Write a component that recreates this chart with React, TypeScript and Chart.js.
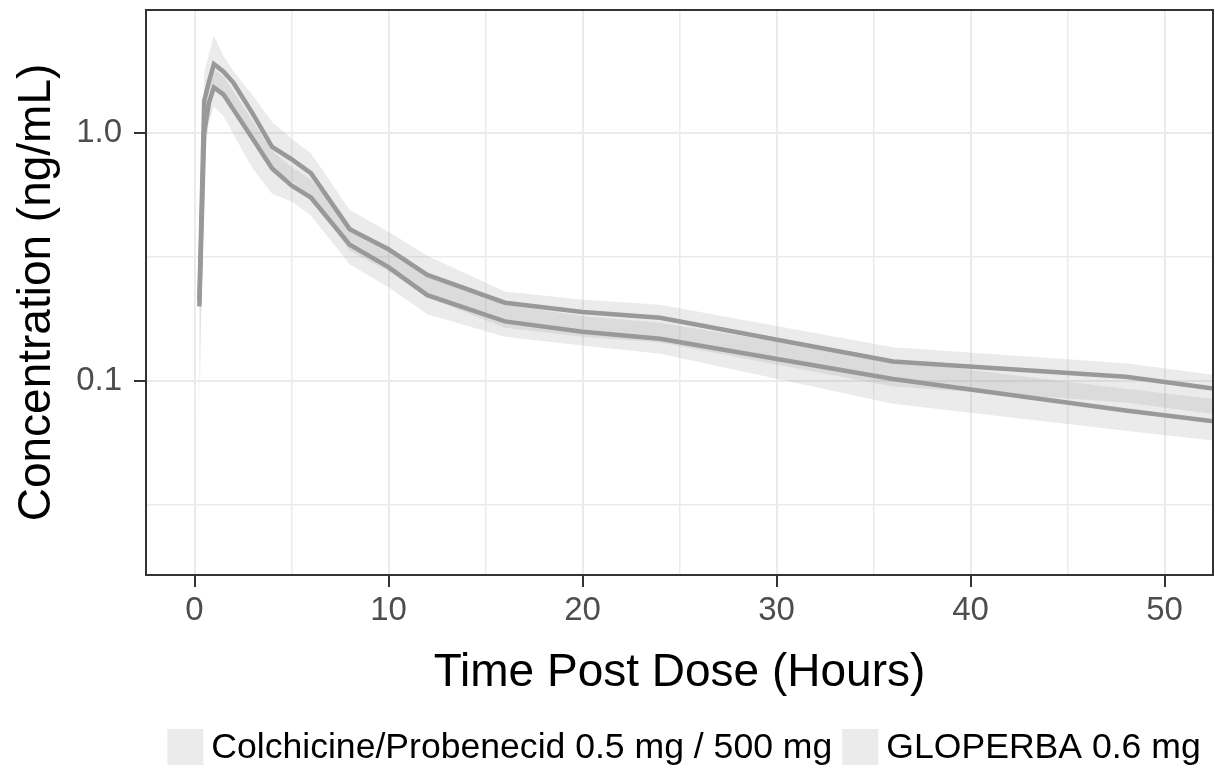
import React, { useEffect, useRef } from "react";
import { Chart, registerables } from "chart.js";

Chart.register(...registerables);

// ---------------- data ----------------
const TIMES = [0.25, 0.5, 0.75, 1, 1.5, 2, 3, 4, 5, 6, 8, 10, 12, 16, 20, 24, 36, 48, 72];

const PROB_MEAN = [0.21, 1.35, 1.62, 1.9, 1.77, 1.6, 1.2, 0.88, 0.785, 0.69, 0.41, 0.34, 0.268, 0.207, 0.19, 0.18, 0.12, 0.104, 0.058];
const PROB_HI = [0.42, 1.75, 2.1, 2.47, 2.05, 1.78, 1.42, 1.11, 0.95, 0.83, 0.49, 0.4, 0.32, 0.23, 0.213, 0.203, 0.137, 0.118, 0.067];
const PROB_LO = [0.1, 1.1, 1.32, 1.55, 1.44, 1.3, 0.98, 0.72, 0.64, 0.56, 0.335, 0.277, 0.218, 0.164, 0.151, 0.143, 0.095, 0.082, 0.046];

const GLOP_MEAN = [0.2, 1.0, 1.33, 1.53, 1.43, 1.25, 0.95, 0.72, 0.615, 0.55, 0.355, 0.288, 0.222, 0.174, 0.158, 0.148, 0.102, 0.076, 0.045];
const GLOP_HI = [0.36, 1.25, 1.57, 1.81, 1.69, 1.48, 1.12, 0.85, 0.73, 0.65, 0.42, 0.34, 0.263, 0.203, 0.183, 0.172, 0.121, 0.093, 0.056];
const GLOP_LO = [0.07, 0.8, 1.1, 1.28, 1.17, 0.99, 0.72, 0.57, 0.53, 0.465, 0.295, 0.239, 0.186, 0.151, 0.139, 0.129, 0.081, 0.063, 0.039];

const SERIES_LABELS = ["Colchicine/Probenecid 0.5 mg / 500 mg", "GLOPERBA 0.6 mg"];

const X_GRID = [0, 5, 10, 15, 20, 25, 30, 35, 40, 45, 50];
const X_TICKS = [0, 10, 20, 30, 40, 50];
const Y_GRID = [0.0316, 0.1, 0.316, 1.0];
const Y_TICKS = [0.1, 1.0];
const Y_TICK_LABELS = ["0.1", "1.0"];

const X_TITLE = "Time Post Dose (Hours)";
const Y_TITLE = "Concentration (ng/mL)";

// ---------------- style ----------------
const FONT = "'Liberation Sans', Arial, sans-serif";
const LINE_COLOR = "#999999";
const RIBBON_COLOR = "rgba(153,153,153,0.2)";
const GRID_COLOR = "#ebebeb";
const BORDER_COLOR = "#333333";
const TICK_TEXT = "#4d4d4d";

const pts = (ys: number[]) => TIMES.map((t, i) => ({ x: t, y: ys[i] }));

const panelBorder = {
  id: "panelBorder",
  afterDatasetsDraw(chart: any) {
    const { ctx, chartArea } = chart;
    const { left, top, right, bottom } = chartArea;
    ctx.save();
    ctx.strokeStyle = BORDER_COLOR;
    ctx.lineWidth = 2;
    ctx.strokeRect(left, top, right - left, bottom - top);
    ctx.restore();
  },
};

const bottomLegend = {
  id: "bottomLegend",
  afterDraw(chart: any, _args: any, opts: any) {
    const ctx = chart.ctx;
    ctx.save();
    ctx.font = `${opts.fontSize}px ${FONT}`;
    const labels: string[] = opts.labels;
    const widths = labels.map((t) => opts.box + opts.gap + ctx.measureText(t).width);
    const total = widths.reduce((a, b) => a + b, 0) + opts.spacing * (labels.length - 1);
    let x = opts.centerX - total / 2;
    const cy = opts.centerY;
    labels.forEach((t, i) => {
      ctx.fillStyle = opts.boxColor;
      ctx.fillRect(x, cy - opts.box / 2, opts.box, opts.box);
      ctx.fillStyle = "#000";
      ctx.textBaseline = "middle";
      ctx.textAlign = "left";
      ctx.fillText(t, x + opts.box + opts.gap, cy + 1);
      x += widths[i] + opts.spacing;
    });
    ctx.restore();
  },
};

export default function App() {
  const ref = useRef<HTMLCanvasElement | null>(null);

  useEffect(() => {
    if (!ref.current) return;
    const ribbon = (ys: number[], fillTo: number | false, label: string) => ({
      label,
      data: pts(ys),
      borderWidth: 0,
      borderColor: "transparent",
      pointRadius: 0,
      backgroundColor: RIBBON_COLOR,
      fill: fillTo,
      order: 2,
    });
    const line = (ys: number[], label: string) => ({
      label,
      data: pts(ys),
      borderColor: LINE_COLOR,
      borderWidth: 4.5,
      pointRadius: 0,
      fill: false,
      order: 0,
      tension: 0,
    });

    const chart = new Chart(ref.current, {
      type: "line",
      data: {
        datasets: [
          ribbon(PROB_HI, 1, SERIES_LABELS[0] + " upper"),
          ribbon(PROB_LO, false, SERIES_LABELS[0] + " lower"),
          ribbon(GLOP_HI, 3, SERIES_LABELS[1] + " upper"),
          ribbon(GLOP_LO, false, SERIES_LABELS[1] + " lower"),
          line(PROB_MEAN, SERIES_LABELS[0]),
          line(GLOP_MEAN, SERIES_LABELS[1]),
        ] as any,
      },
      options: {
        animation: false,
        responsive: false,
        devicePixelRatio: 1,
        layout: { padding: { top: 10, right: 2, bottom: 68, left: 0 } },
        plugins: {
          legend: { display: false },
          tooltip: { enabled: false },
          bottomLegend: {
            labels: SERIES_LABELS,
            fontSize: 35.6,
            box: 36,
            gap: 8,
            spacing: 10,
            centerX: 684,
            centerY: 747,
            boxColor: "#ebebeb",
          },
        } as any,
        scales: {
          x: {
            type: "linear",
            min: -2.5,
            max: 52.5,
            afterBuildTicks: (s: any) => {
              s.ticks = X_GRID.map((v) => ({ value: v }));
            },
            afterFit: (s: any) => {
              s.height = 126;
              s.paddingLeft = 0;
              s.paddingRight = 0;
            },
            ticks: {
              autoSkip: false,
              maxRotation: 0,
              padding: 4,
              color: TICK_TEXT,
              font: { family: FONT, size: 33 },
              callback: (v: any) => (X_TICKS.includes(Number(v)) ? String(v) : ""),
            },
            grid: {
              color: GRID_COLOR,
              lineWidth: (c: any) => (X_TICKS.includes(c.tick?.value) ? 2 : 1.5),
              tickColor: (c: any) => (X_TICKS.includes(c.tick?.value) ? BORDER_COLOR : "transparent"),
              tickLength: 12,
              tickWidth: 2,
            },
            border: { display: false },
            title: {
              display: true,
              text: X_TITLE,
              color: "#000",
              font: { family: FONT, size: 46 },
              padding: 0,
            },
          },
          y: {
            type: "logarithmic",
            min: 0.0165,
            max: 3.14,
            afterBuildTicks: (s: any) => {
              s.ticks = Y_GRID.map((v) => ({ value: v }));
            },
            afterFit: (s: any) => {
              s.width = 146;
              s.paddingTop = 0;
              s.paddingBottom = 0;
            },
            ticks: {
              autoSkip: false,
              padding: 12,
              color: TICK_TEXT,
              font: { family: FONT, size: 33 },
              callback: (v: any) => {
                const i = Y_TICKS.findIndex((t) => Math.abs(t - Number(v)) < 1e-9);
                return i >= 0 ? Y_TICK_LABELS[i] : "";
              },
            },
            grid: {
              color: GRID_COLOR,
              lineWidth: (c: any) => (Y_TICKS.includes(c.tick?.value) ? 2 : 1.5),
              tickColor: (c: any) => (Y_TICKS.includes(c.tick?.value) ? BORDER_COLOR : "transparent"),
              tickLength: 12,
              tickWidth: 2,
            },
            border: { display: false },
            title: {
              display: true,
              text: Y_TITLE,
              color: "#000",
              font: { family: FONT, size: 46 },
              padding: { top: 10, bottom: 0 },
            },
          },
        },
      } as any,
      plugins: [panelBorder, bottomLegend] as any,
    });
    return () => chart.destroy();
  }, []);

  return (
    <div style={{ position: "absolute", left: 0, top: 0, width: 1215, height: 769, background: "#fff" }}>
      <canvas ref={ref} width={1215} height={769} style={{ display: "block" }} />
    </div>
  );
}
